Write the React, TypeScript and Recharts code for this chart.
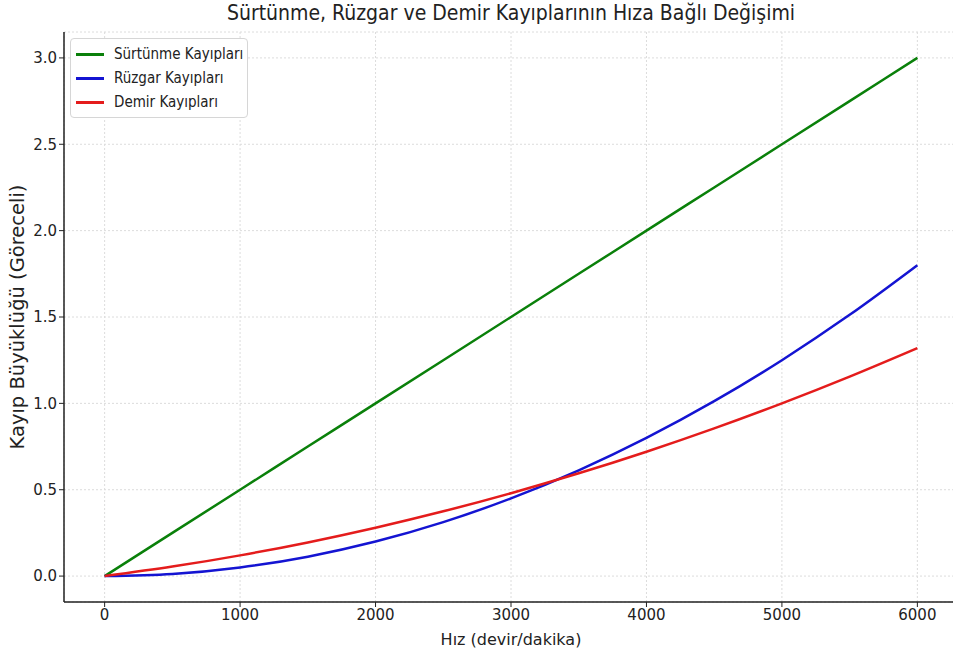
import React from "react";
import {
  LineChart,
  Line,
  XAxis,
  YAxis,
  CartesianGrid,
} from "recharts";

// Hız (devir/dakika)
const rpm = [0, 500, 1000, 1500, 2000, 2500, 3000, 3500, 4000, 4500, 5000, 5500, 6000];
// değerler
const surtunme = [0, 0.25, 0.5, 0.75, 1.0, 1.25, 1.5, 1.75, 2.0, 2.25, 2.5, 2.75, 3.0];
const ruzgar = [0, 0.0125, 0.05, 0.1125, 0.2, 0.3125, 0.45, 0.6125, 0.8, 1.0125, 1.25, 1.5125, 1.8];
const demir = [0, 0.055, 0.12, 0.195, 0.28, 0.375, 0.48, 0.595, 0.72, 0.855, 1.0, 1.155, 1.32];

const xTicks = [0, 1000, 2000, 3000, 4000, 5000, 6000];
const yTicks = [0, 0.5, 1.0, 1.5, 2.0, 2.5, 3.0];

const series = [
  { key: "surtunme", name: "Sürtünme Kayıpları", color: "#0a800a" },
  { key: "ruzgar", name: "Rüzgar Kayıpları", color: "#1414d2" },
  { key: "demir", name: "Demir Kayıpları", color: "#e41c1c" },
];

const data = rpm.map((r, i) => ({
  rpm: r,
  surtunme: surtunme[i],
  ruzgar: ruzgar[i],
  demir: demir[i],
}));

const FONT = "DejaVu Sans, sans-serif";
const COND = "DejaVu Sans Condensed, DejaVu Sans, sans-serif";

// legend drawn as an overlay so it doesn't take space from the plot
const LegendBox = () => (
  <div
    style={{
      position: "absolute",
      left: 70,
      top: 38,
      background: "#fff",
      border: "1px solid #d6d6d6",
      borderRadius: 4,
      padding: "3px 4px 3px 5px",
      fontFamily: COND,
      fontSize: 15,
      color: "#222",
      zIndex: 2,
    }}
  >
    {series.map((s) => (
      <div key={s.key} style={{ display: "flex", alignItems: "center", height: 24 }}>
        <div style={{ width: 28, height: 3, background: s.color, marginRight: 10 }} />
        <span>{s.name}</span>
      </div>
    ))}
  </div>
);

const App: React.FC = () => {
  return (
    <div
      style={{
        position: "absolute",
        left: 0,
        top: 0,
        width: 953,
        height: 655,
        overflow: "hidden",
        background: "#fff",
      }}
    >
      <div
        style={{
          position: "absolute",
          top: 1,
          left: 64,
          width: 894,
          textAlign: "center",
          fontFamily: COND,
          fontSize: 21,
          color: "#222",
        }}
      >
        Sürtünme, Rüzgar ve Demir Kayıplarının Hıza Bağlı Değişimi
      </div>
      <LegendBox />
      <LineChart
        width={960}
        height={655}
        data={data}
        margin={{ top: 32, right: 2, bottom: 0, left: 0 }}
      >
        <CartesianGrid stroke="#dcdcdc" strokeDasharray="2 2" />
        <XAxis
          dataKey="rpm"
          type="number"
          domain={[-300, 6300]}
          ticks={xTicks}
          allowDataOverflow
          height={53}
          tickSize={5}
          tick={{ fontSize: 15, fill: "#222", fontFamily: FONT }}
          axisLine={{ stroke: "#222", strokeWidth: 1.5 }}
          tickLine={{ stroke: "#222" }}
          label={{
            value: "Hız (devir/dakika)",
            position: "insideBottom",
            offset: 10,
            style: { fontSize: 16, fill: "#222", fontFamily: FONT },
          }}
        />
        <YAxis
          type="number"
          domain={[-0.15, 3.15]}
          ticks={yTicks}
          allowDataOverflow
          width={64}
          tickSize={5}
          tickFormatter={(v: number) => v.toFixed(1)}
          tick={{ fontSize: 15, fill: "#222", fontFamily: FONT }}
          axisLine={{ stroke: "#222", strokeWidth: 1.5 }}
          tickLine={{ stroke: "#222" }}
          label={{
            value: "Kayıp Büyüklüğü (Göreceli)",
            angle: -90,
            position: "insideLeft",
            offset: 17,
            style: { textAnchor: "middle", fontSize: 19.5, fill: "#222", fontFamily: FONT },
          }}
        />
        {series.map((s) => (
          <Line
            key={s.key}
            type="monotone"
            dataKey={s.key}
            name={s.name}
            stroke={s.color}
            strokeWidth={2.5}
            dot={false}
            isAnimationActive={false}
          />
        ))}
      </LineChart>
    </div>
  );
};

export default App;
